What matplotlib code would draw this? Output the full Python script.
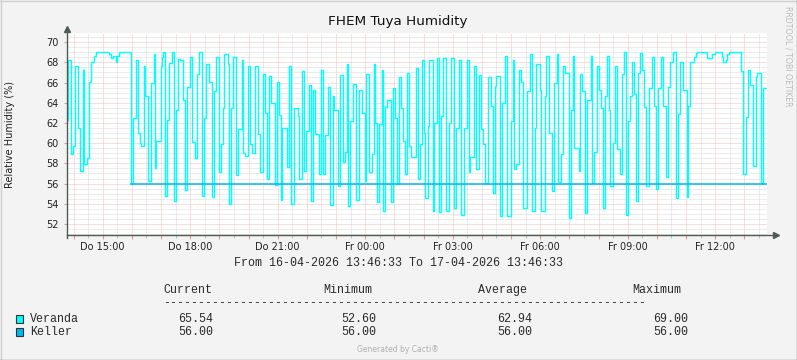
import matplotlib
matplotlib.use('Agg')
import matplotlib.pyplot as plt
import matplotlib.dates as mdates
from matplotlib.lines import Line2D
from matplotlib.patches import Rectangle
from matplotlib.ticker import MultipleLocator, FuncFormatter
from datetime import datetime, timedelta

start = datetime(2026, 4, 16, 13, 46, 33)
end = start + timedelta(hours=24)

# Veranda: Stufen, Minuten ab Start und Wert
veranda_t = [0, 2, 8, 12, 16, 22, 26, 32, 36, 41, 45, 49, 56, 60, 86, 91, 95, 100, 103, 107,
             131, 136, 142, 147, 150, 153, 158, 161, 167, 173, 178, 182, 184, 193, 195, 197,
             202, 206, 210, 216, 220, 225, 229, 232, 238, 242, 246, 253, 257, 263, 267, 271,
             277, 281, 285, 293, 298, 302, 306, 313, 317, 320, 324, 331, 334, 338, 341, 347,
             352, 359, 363, 367, 372, 376, 381, 387, 392, 397, 403, 407, 412, 416, 419, 428,
             431, 436, 440, 443, 453, 457, 461, 466, 475, 478, 483, 488, 492, 498, 502, 507,
             511, 519, 522, 526, 531, 537, 542, 547, 549, 557, 561, 567, 571, 575, 579, 583,
             588, 594, 600, 607, 612, 616, 622, 627, 631, 634, 638, 642, 647, 651, 655, 659,
             666, 671, 675, 679, 684, 688, 692, 695, 699, 703, 708, 718, 722, 727, 730, 735,
             737, 742, 745, 752, 756, 761, 765, 769, 773, 780, 786, 790, 797, 801, 806, 811,
             816, 822, 826, 830, 837, 842, 847, 852, 856, 859, 867, 872, 876, 880, 882, 890,
             895, 900, 906, 913, 917, 920, 924, 929, 934, 938, 947, 952, 956, 962, 965, 972,
             976, 983, 986, 991, 998, 1001, 1007, 1011, 1016, 1020, 1024, 1032, 1036, 1041,
             1044, 1053, 1056, 1060, 1065, 1070, 1077, 1081, 1085, 1090, 1094, 1099, 1103,
             1107, 1111, 1115, 1118, 1123, 1128, 1132, 1137, 1141, 1145, 1149, 1154, 1158,
             1162, 1166, 1171, 1175, 1179, 1183, 1188, 1192, 1197, 1204, 1207, 1211, 1216,
             1222, 1227, 1233, 1237, 1240, 1247, 1252, 1257, 1262, 1267, 1275, 1278, 1282,
             1290, 1293, 1296, 1316, 1327, 1332, 1347, 1350, 1355, 1358, 1362, 1386, 1391,
             1396, 1401, 1405, 1412, 1417, 1419, 1427, 1431]
veranda_v = [62.3, 68.2, 58.9, 59.7, 67.6, 61.5, 57.2, 67.2, 57.9, 58.5, 66.1, 68.0, 68.6, 69.0, 68.8, 68.4, 68.6, 68.0, 68.6, 69.0,
             56.0, 62.5, 68.2, 61.0, 60.0, 59.7, 67.6, 64.7, 56.3, 66.0, 68.8, 57.5, 60.2, 67.6, 68.5, 69.0,
             54.8, 62.3, 67.9, 69.0, 54.3, 63.3, 68.3, 68.2, 64.3, 55.4, 65.6, 68.5, 60.1, 58.5, 66.8, 69.0,
             54.8, 62.5, 67.8, 66.1, 54.7, 65.2, 68.5, 57.1, 59.9, 63.5, 68.8, 67.8, 54.0, 63.5, 68.5, 56.8,
             61.4, 68.2, 59.0, 58.7, 67.6, 59.9, 59.0, 67.6, 60.9, 57.1, 66.8, 63.0, 56.5, 66.6, 64.0, 55.9,
             66.1, 62.8, 54.4, 61.5, 57.6, 67.6, 54.0, 63.5, 62.7, 56.5, 67.1, 57.2, 61.2, 65.8, 54.3, 65.3,
             60.9, 56.9, 67.2, 56.9, 60.8, 65.6, 53.9, 64.7, 63.3, 55.8, 66.7, 58.1, 59.1, 67.8, 53.8, 62.2,
             65.9, 54.4, 65.3, 63.0, 56.3, 66.8, 57.1, 58.9, 67.8, 62.0, 54.2, 61.9, 67.2, 53.3, 63.6, 64.3,
             54.2, 65.5, 62.5, 56.0, 66.5, 63.5, 60.2, 56.9, 66.9, 59.7, 58.6, 67.4, 56.5, 59.9, 68.2, 61.0,
             54.6, 61.7, 68.2, 53.3, 62.0, 68.4, 53.2, 62.7, 68.4, 53.3, 62.0, 68.4, 53.6, 61.5, 68.2, 52.9,
             61.5, 68.2, 57.1, 58.6, 67.6, 57.4, 66.7, 61.4, 59.9, 56.1, 66.5, 63.7, 55.1, 65.7, 66.6, 52.8,
             64.0, 68.6, 52.8, 62.2, 68.2, 57.4, 57.9, 67.2, 66.1, 53.6, 65.2, 68.8, 53.3, 61.5, 67.8, 65.3,
             53.3, 64.7, 68.6, 61.0, 55.3, 66.0, 68.8, 56.2, 58.9, 67.6, 66.9, 52.6, 63.3, 68.6,
             59.5, 57.2, 66.8, 65.2, 53.1, 64.3, 68.6, 56.1, 59.1, 67.6, 65.3, 63.5, 53.6,
             64.7, 68.6, 63.3, 55.8, 60.0, 67.6, 59.4, 56.9, 66.8, 69.0, 52.9, 62.2, 64.7,
             68.0, 64.9, 54.3, 66.9, 68.9, 67.2, 63.6, 55.8, 65.5, 68.5, 63.7, 55.5, 65.5,
             68.5, 63.7, 56.6, 65.6, 68.0, 69.0, 54.6, 62.9, 68.0, 65.3, 54.7, 63.7, 68.0,
             68.5, 68.9, 69.0, 68.4, 68.8, 69.0, 68.5, 68.0, 68.2, 68.8, 69.0, 67.1, 56.9,
             62.6, 67.2, 65.8, 57.7, 66.5, 66.9, 56.1, 65.5]

# Keller: konstant ab ca. 16:00
keller_t = [132, 1440]
keller_v = [56.0, 56.0]

series_names = ['Veranda', 'Keller']
series_colors = ['#00FFFF', '#00B8F0']
stat_heads = ['Current', 'Minimum', 'Average', 'Maximum']
stat_values = [['65.54', '52.60', '62.94', '69.00'],
               ['56.00', '56.00', '56.00', '56.00']]
weekdays = ['Mo', 'Di', 'Mi', 'Do', 'Fr', 'Sa', 'So']

W, H = 797, 360
bg = '#f3f3f3'
axis_col = '#4d5c52'
fig = plt.figure(figsize=(W / 100, H / 100), dpi=100, facecolor=bg)


def fx(px):
    return px / W


def fy(py):
    return 1 - py / H


ax = fig.add_axes([fx(67), fy(235.3), fx(700), 202.3 / H])
ax.set_facecolor('white')

vt = [start + timedelta(minutes=m) for m in veranda_t] + [end]
vv = veranda_v + [veranda_v[-1]]
ax.step(vt, vv, where='post', color=series_colors[0], lw=1.0, zorder=3)
kt = [start + timedelta(minutes=m) for m in keller_t]
ax.step(kt, keller_v, where='post', color=series_colors[1], lw=1.1, zorder=4)

ax.set_xlim(start, end)
ax.set_ylim(50.88, 70.9)

# Gitter
ax.xaxis.set_major_locator(mdates.HourLocator())
ax.xaxis.set_minor_locator(mdates.MinuteLocator(byminute=[30]))
ax.yaxis.set_major_locator(MultipleLocator(2))
ax.yaxis.set_minor_locator(MultipleLocator(0.5))
ax.grid(which='minor', color='#d9d9d9', lw=0.72, ls=(0, (1, 1)), zorder=1)
ax.grid(which='major', color='#f2bcbc', lw=0.72, ls=(0, (1, 1)), zorder=2)


def xfmt(v, pos):
    d = mdates.num2date(v)
    if d.hour % 3 != 0:
        return ''
    return f'{weekdays[d.weekday()]} {d.hour:02d}:00'


ax.xaxis.set_major_formatter(FuncFormatter(xfmt))
ax.yaxis.set_major_formatter(FuncFormatter(lambda v, p: f'{v:.0f}'))
ax.tick_params(axis='x', which='major', length=3, width=0.8, color='#e59a9a',
               labelsize=7, labelcolor='#222222', pad=1.5)
ax.tick_params(axis='x', which='minor', length=2, width=0.8, color='#c0c0c0')
ax.tick_params(axis='y', which='major', length=2, width=0.8, color='#e59a9a',
               labelsize=7, labelcolor='#222222', pad=4)
ax.tick_params(axis='y', which='minor', length=0)
for s in ax.spines.values():
    s.set_visible(False)

# Achsen mit Pfeilen
ax.add_line(Line2D([0, 1.013], [0, 0], transform=ax.transAxes, color=axis_col,
                   lw=1.0, clip_on=False, zorder=5))
ax.add_line(Line2D([0, 0], [-0.015, 1.02], transform=ax.transAxes, color=axis_col,
                   lw=1.0, clip_on=False, zorder=5))
ax.plot([1.013], [0], marker='>', ms=4, color=axis_col, transform=ax.transAxes,
        clip_on=False, zorder=6)
ax.plot([0], [1.02], marker='^', ms=4, color=axis_col, transform=ax.transAxes,
        clip_on=False, zorder=6)

# Texte
fig.text(fx(398), fy(22), 'FHEM Tuya Humidity', ha='center', va='center',
         fontsize=9.7, color='#111111')
fig.text(fx(10), fy(134), 'Relative Humidity (%)', rotation=90, ha='center',
         va='center', fontsize=7, color='#222222')
fig.text(fx(788), fy(56), 'RRDTOOL / TOBI OETIKER', rotation=270, ha='center',
         va='center', fontsize=5.7, color='#bdbdbd')

mono = dict(family='Liberation Mono', fontsize=8.4, color='#2a2a2a')
fig.text(fx(398), fy(263), 'From 16-04-2026 13:46:33 To 17-04-2026 13:46:33',
         ha='center', va='center', **mono)

head_x = [163, 323, 478, 632]
val_right = [213, 376, 532, 688]
for hx, h in zip(head_x, stat_heads):
    fig.text(fx(hx), fy(290), h, ha='left', va='center', **mono)
fig.text(fx(163), fy(303), '-' * 69, ha='left', va='center', **mono)

row_y = [319, 332]
for i, name in enumerate(series_names):
    y = row_y[i]
    fig.add_artist(Rectangle((fx(15.7), fy(y + 4)), fx(7.6), 8 / H,
                             facecolor=series_colors[i], edgecolor='#333333',
                             lw=0.8, transform=fig.transFigure))
    fig.text(fx(30), fy(y), name, ha='left', va='center', **mono)
    for rx, val in zip(val_right, stat_values[i]):
        fig.text(fx(rx), fy(y), val, ha='right', va='center', **mono)

fig.text(fx(398), fy(350), 'Generated by Cacti®', ha='center', va='center',
         fontsize=5.5, color='#b0b0b0')

# Rahmen
fig.add_artist(Line2D([0, 1], [fy(0.5), fy(0.5)], color='#cfcfcf', lw=1, transform=fig.transFigure))
fig.add_artist(Line2D([fx(0.5), fx(0.5)], [0, 1], color='#cfcfcf', lw=1, transform=fig.transFigure))
fig.add_artist(Line2D([0, 1], [fy(359.5), fy(359.5)], color='#8a8a8a', lw=1, transform=fig.transFigure))
fig.add_artist(Line2D([fx(796.5), fx(796.5)], [0, 1], color='#8a8a8a', lw=1, transform=fig.transFigure))

fig.savefig('out.png', dpi=100, facecolor=bg)
